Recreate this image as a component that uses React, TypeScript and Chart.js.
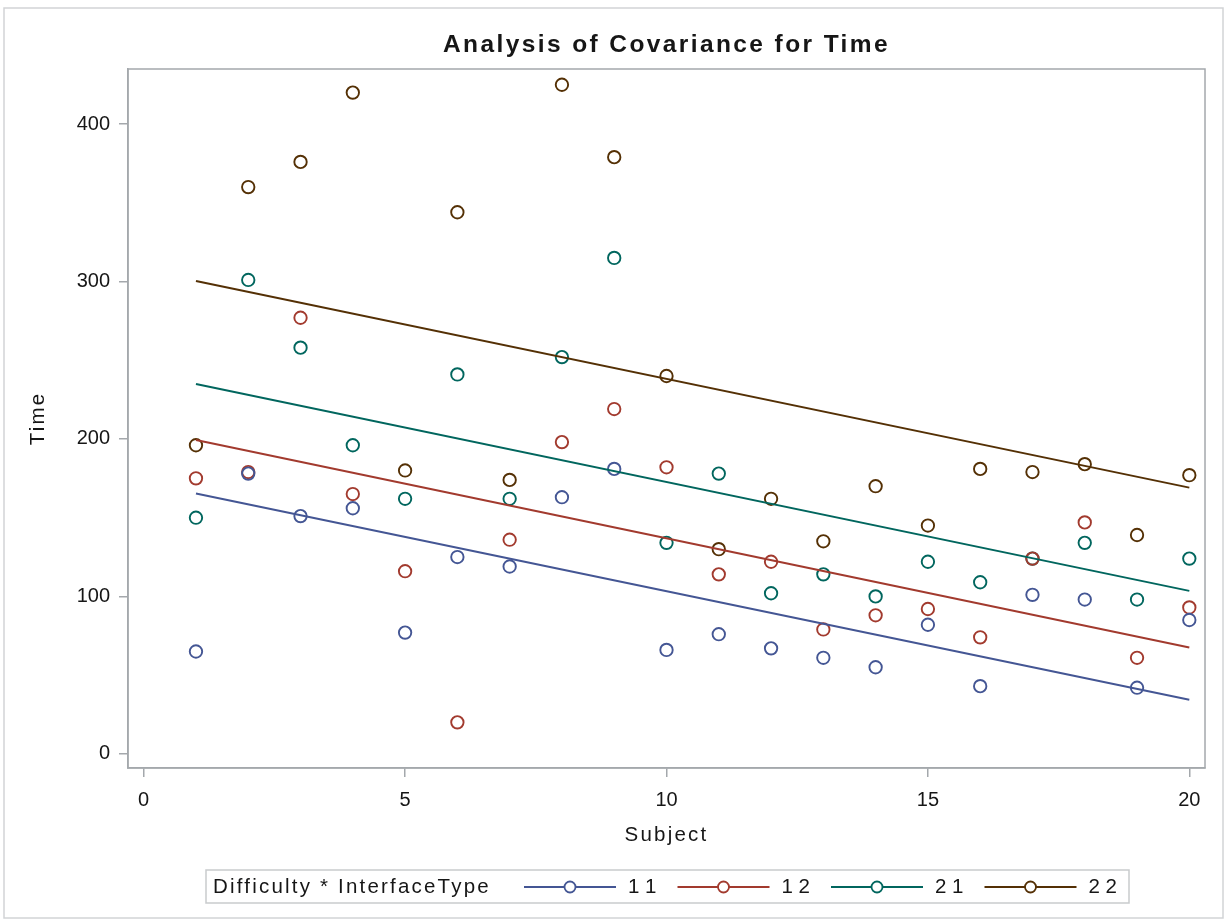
import React, { useEffect, useRef } from "react";
import { Chart, registerables } from "chart.js";

Chart.register(...registerables);

// ---- data ----
const subjects = [1, 2, 3, 4, 5, 6, 7, 8, 9, 10, 11, 12, 13, 14, 15, 16, 17, 18, 19, 20];
const groupNames = ["1 1", "1 2", "2 1", "2 2"];
const time11 = [65, 178, 151, 156, 77, 125, 119, 163, 181, 66, 76, 67, 61, 55, 82, 43, 101, 98, 42, 85];
const time12 = [175, 179, 277, 165, 116, 20, 136, 198, 219, 182, 114, 122, 79, 88, 92, 74, 124, 147, 61, 93];
const time21 = [150, 301, 258, 196, 162, 241, 162, 252, 315, 134, 178, 102, 114, 100, 122, 109, 124, 134, 98, 124];
const time22 = [196, 360, 376, 420, 180, 344, 174, 425, 379, 240, 130, 162, 135, 170, 145, 181, 179, 184, 139, 177];
const fitX = [1, 20];
const fit11 = [165.3, 34.3];
const fit12 = [199.4, 67.5];
const fit21 = [234.9, 103.5];
const fit22 = [300.3, 169.1];
const xTicks = [0, 5, 10, 15, 20];
const yTicks = [0, 100, 200, 300, 400];
const titleText = "Analysis of Covariance for Time";
const xTitle = "Subject";
const yTitle = "Time";
const legendTitle = "Difficulty * InterfaceType";

const colors = ["#445694", "#A23A2E", "#01665E", "#543005"];
const FONT = "'Liberation Sans', Arial, sans-serif";
const FRAME = "#a4a8ac";
const TEXT = "#161616";

const seriesValues = [time11, time12, time21, time22];
const fitValues = [fit11, fit12, fit21, fit22];

const decorPlugin = {
  id: "decor",
  afterDraw(chart: any) {
    const ctx = chart.ctx as CanvasRenderingContext2D;
    const a = chart.chartArea;
    ctx.save();
    // outer border
    ctx.strokeStyle = "#d2d4d6";
    ctx.lineWidth = 1.5;
    ctx.strokeRect(4, 8, 1219, 910);
    // plot frame
    ctx.strokeStyle = FRAME;
    ctx.lineWidth = 1.5;
    ctx.strokeRect(a.left, a.top, a.right - a.left, a.bottom - a.top);

    // title
    ctx.fillStyle = TEXT;
    (ctx as any).letterSpacing = "2.4px";
    ctx.font = `bold 24.5px ${FONT}`;
    ctx.textAlign = "center";
    ctx.textBaseline = "middle";
    ctx.fillText(titleText, (a.left + a.right) / 2, 45);

    // axis titles
    (ctx as any).letterSpacing = "2.2px";
    ctx.font = `20.5px ${FONT}`;
    ctx.fillStyle = TEXT;
    ctx.fillText(xTitle, (a.left + a.right) / 2, 835);
    ctx.save();
    ctx.translate(38, (a.top + a.bottom) / 2);
    ctx.rotate(-Math.PI / 2);
    ctx.fillText(yTitle, 0, 0);
    ctx.restore();

    // legend
    ctx.strokeStyle = "#c9cbcd";
    ctx.lineWidth = 1.5;
    ctx.strokeRect(206, 870, 923, 33);
    ctx.textAlign = "left";
    ctx.fillStyle = TEXT;
    ctx.fillText(legendTitle, 213, 887);
    (ctx as any).letterSpacing = "0px";
    groupNames.forEach((name, i) => {
      const x0 = 524 + i * 153.5;
      ctx.strokeStyle = colors[i];
      ctx.lineWidth = 2;
      ctx.beginPath();
      ctx.moveTo(x0, 887);
      ctx.lineTo(x0 + 92, 887);
      ctx.stroke();
      ctx.lineWidth = 1.8;
      ctx.beginPath();
      ctx.arc(x0 + 46, 887, 5.5, 0, Math.PI * 2);
      ctx.fillStyle = "#fff";
      ctx.fill();
      ctx.stroke();
      ctx.fillStyle = TEXT;
      ctx.fillText(name, x0 + 104, 887);
    });
    ctx.restore();
  },
};

export default function App() {
  const ref = useRef<HTMLCanvasElement>(null);
  useEffect(() => {
    document.body.style.margin = "0";
    document.body.style.overflow = "hidden";
    const datasets: any[] = [];
    fitValues.forEach((f, i) => {
      datasets.push({
        type: "scatter",
        label: groupNames[i] + " fit",
        data: fitX.map((x, j) => ({ x, y: f[j] })),
        showLine: true,
        borderColor: colors[i],
        borderWidth: 2,
        pointRadius: 0,
        fill: false,
      });
    });
    seriesValues.forEach((vals, i) => {
      datasets.push({
        type: "scatter",
        label: groupNames[i],
        data: subjects.map((s, j) => ({ x: s, y: vals[j] })),
        showLine: false,
        borderColor: colors[i],
        backgroundColor: "rgba(0,0,0,0)",
        pointStyle: "circle",
        pointRadius: 6.2,
        pointBorderWidth: 1.9,
        pointHoverRadius: 6.2,
      });
    });
    const tickFont = { family: FONT, size: 20 };
    const chart = new Chart(ref.current!, {
      type: "scatter",
      data: { datasets },
      plugins: [decorPlugin],
      options: {
        animation: false,
        responsive: false,
        events: [],
        layout: { padding: { top: 69, right: 20, left: 0, bottom: 0 } },
        plugins: { legend: { display: false }, title: { display: false }, tooltip: { enabled: false } },
        scales: {
          x: {
            type: "linear",
            min: -0.3,
            max: 20.3,
            afterFit: (s: any) => { s.height = 151; },
            afterBuildTicks: (s: any) => { s.ticks = xTicks.map((v) => ({ value: v })); },
            grid: { drawOnChartArea: false, drawTicks: true, tickLength: 9, color: FRAME, lineWidth: 1.5 },
            border: { display: true, color: FRAME, width: 1.5 },
            ticks: { font: tickFont, color: TEXT, padding: 11, maxRotation: 0 },
            title: { display: false },
          },
          y: {
            type: "linear",
            min: -9,
            max: 435,
            afterFit: (s: any) => { s.width = 128; },
            afterBuildTicks: (s: any) => { s.ticks = yTicks.map((v) => ({ value: v })); },
            grid: { drawOnChartArea: false, drawTicks: true, tickLength: 9, color: FRAME, lineWidth: 1.5 },
            border: { display: true, color: FRAME, width: 1.5 },
            ticks: { font: tickFont, color: TEXT, padding: 9 },
            title: { display: false },
          },
        },
      },
    });
    return () => chart.destroy();
  }, []);
  return (
    <div style={{ width: 1225, height: 919, background: "#fff" }}>
      <canvas ref={ref} width={1225} height={919} style={{ display: "block" }} />
    </div>
  );
}
